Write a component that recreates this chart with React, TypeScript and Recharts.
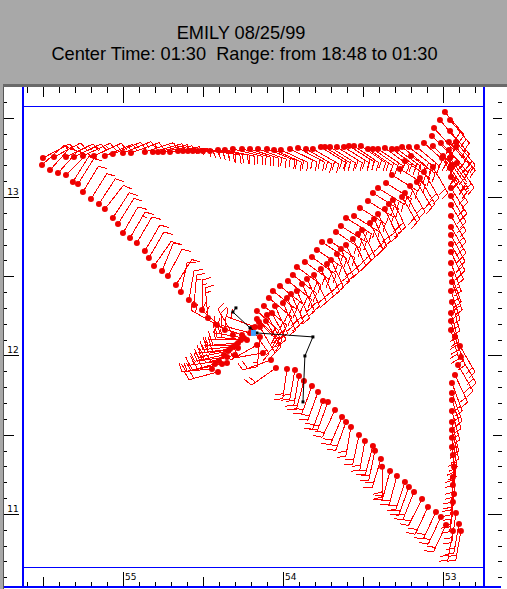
import React from "react";
import { ScatterChart, Scatter, XAxis, YAxis } from "recharts";

const titleLine1 = "EMILY 08/25/99";
const titleLine2 = "Center Time: 01:30  Range: from 18:48 to 01:30";

const lonTicks = [55.6,55.5,55.4,55.3,55.2,55.1,55,54.9,54.8,54.7,54.6,54.5,54.4,54.3,54.2,54.1,54,53.9,53.8,53.7,53.6,53.5,53.4,53.3,53.2,53.1,53,52.9,52.8];
const latTicks = [13.6,13.5,13.4,13.3,13.2,13.1,13,12.9,12.8,12.7,12.6,12.5,12.4,12.3,12.2,12.1,12,11.9,11.8,11.7,11.6,11.5,11.4,11.3,11.2,11.1,11,10.9,10.8,10.7,10.6];

// lon, lat, wind direction (deg), wind speed (kt)
type Ob = [number, number, number, number];
const leftLeg: Ob[] = [
  [55.506,13.202,48,10],[55.456,13.170,42,10],[55.406,13.151,42,10],[55.356,13.139,45,10],[55.313,13.095,32,10],
  [55.281,13.082,32,10],[55.250,13.032,31,10],[55.200,12.987,32,10],[55.150,12.956,33,10],[55.113,12.924,38,10],
  [55.063,12.868,33,10],[55.031,12.830,32,10],[55.000,12.773,30,10],[54.956,12.741,30,15],[54.913,12.710,30,10],
  [54.863,12.659,30,10],[54.838,12.615,30,10],[54.806,12.565,35,10],[54.756,12.533,22,10],[54.719,12.502,28,10],
  [54.669,12.445,32,10],[54.638,12.401,12,10],[54.588,12.350,10,10],[54.556,12.319,5,15],[54.506,12.287,0,15],[54.469,12.237,-5,15],
];
const clusterObs: Ob[] = [
  [54.413,12.192,300,20],[54.363,12.161,310,20],[54.313,12.129,330,20],[54.256,12.129,290,20],[54.244,12.110,280,20],
  [54.225,12.098,275,20],[54.206,12.142,285,20],[54.175,12.180,290,20],[54.281,12.079,265,20],[54.281,12.047,260,20],
  [54.313,12.054,265,20],[54.344,12.028,258,20],[54.300,12.003,255,20],[54.350,11.991,262,20],[54.350,11.953,258,20],
  [54.381,11.946,258,20],[54.400,11.965,262,20],[54.425,11.946,255,20],[54.444,11.915,265,20],[54.406,11.896,255,20],
  [54.263,12.098,270,20],[54.331,12.041,262,20],[54.294,12.066,268,20],[54.369,12.003,258,20],
  [54.144,12.117,185,15],[54.163,12.066,240,15],[54.125,12.016,260,20],[54.075,11.972,250,20],[54.044,11.921,235,20],
];
const upperRow: Ob[] = [
  [53.319,13.139,122,20],[53.356,13.088,122,20],[53.406,13.057,122,20],[53.438,13.025,122,20],[53.469,12.975,122,20],
  [53.519,12.931,122,20],[53.556,12.880,122,20],[53.606,12.868,122,20],[53.638,12.817,122,20],[53.669,12.779,124,20],
  [53.706,12.722,124,20],[53.756,12.716,124,20],[53.788,12.666,124,20],[53.819,12.621,126,20],[53.863,12.590,126,20],
  [53.913,12.558,126,20],[53.938,12.508,128,20],[53.969,12.470,128,20],[54.019,12.438,128,20],[54.063,12.407,128,20],
  [54.088,12.363,130,20],[54.119,12.312,130,20],[54.163,12.281,132,20],[54.163,12.230,132,20],[54.150,12.211,135,20],
  [53.269,13.177,122,20],[53.238,13.227,124,20],[53.200,13.259,126,20],
];
const lowerRow: Ob[] = [
  [53.313,12.981,155,20],[53.338,12.956,155,20],[53.363,12.924,155,20],[53.406,12.893,155,20],[53.431,12.861,155,20],
  [53.456,12.836,154,20],[53.506,12.792,154,20],[53.531,12.767,154,20],[53.563,12.735,154,20],[53.606,12.697,154,20],
  [53.638,12.672,155,20],[53.663,12.640,155,20],[53.700,12.603,155,20],[53.725,12.577,155,20],[53.763,12.546,155,20],
  [53.806,12.508,155,20],[53.850,12.483,155,20],[53.881,12.451,155,20],[53.913,12.407,155,20],[53.950,12.388,155,20],
  [53.975,12.363,155,20],[54.000,12.331,155,20],[54.050,12.312,155,20],[54.069,12.268,152,20],[54.100,12.255,150,20],
  [54.106,12.218,150,20],[54.144,12.180,150,20],[54.194,12.167,145,20],
  [53.256,13.000,150,20],[53.238,13.025,150,20],[53.206,13.069,150,20],[53.163,13.095,150,20],[53.144,13.120,150,20],
  [53.119,13.158,150,20],[53.063,13.189,150,20],[53.006,13.246,148,20],[53.000,13.259,148,20],[52.944,13.202,145,20],
  [52.913,13.215,145,20],[52.919,13.315,140,20],[52.919,13.347,140,20],
];
const apexObs: Ob[] = [
  [52.988,13.536,140,20],[53.019,13.486,140,20],[53.056,13.435,138,20],[53.069,13.385,135,20],[52.956,13.486,140,20],[52.956,13.416,140,20],
];
const topLeg: Ob[] = [
  [55.500,13.246,62,15],[55.431,13.252,62,15],[55.356,13.252,64,15],[55.306,13.252,64,15],[55.250,13.259,65,15],
  [55.181,13.259,65,15],[55.113,13.259,67,15],[55.063,13.271,67,15],[55.000,13.278,68,15],[54.950,13.278,70,15],
  [54.863,13.284,72,15],[54.813,13.284,74,15],[54.781,13.284,76,15],[54.750,13.284,78,15],[54.706,13.284,80,15],
  [54.656,13.290,85,15],[54.625,13.290,87,15],[54.594,13.290,88,15],[54.563,13.290,90,15],[54.531,13.290,92,15],
  [54.500,13.290,94,15],[54.456,13.290,97,20],[54.406,13.297,100,20],[54.363,13.297,102,20],[54.313,13.303,104,20],
  [54.256,13.303,106,20],[54.206,13.303,108,20],[54.156,13.303,110,20],[54.100,13.303,112,20],[54.056,13.297,114,20],
  [54.013,13.297,115,20],[53.956,13.303,116,20],[53.906,13.309,118,20],[53.856,13.303,120,20],[53.813,13.303,120,20],
  [53.763,13.315,122,20],[53.738,13.315,122,20],[53.706,13.315,122,20],[53.663,13.315,122,20],[53.619,13.315,122,20],
  [53.588,13.322,122,20],[53.556,13.322,124,20],[53.513,13.322,124,20],[53.469,13.303,124,20],[53.438,13.303,124,20],
  [53.406,13.303,124,20],[53.363,13.309,126,20],[53.319,13.303,126,20],[53.288,13.303,126,20],[53.256,13.315,128,20],
  [53.213,13.315,128,20],[53.163,13.315,130,20],[53.119,13.341,132,20],[53.063,13.322,134,20],[53.013,13.341,136,20],
  [52.963,13.347,138,20],[52.963,13.297,140,20],
];
const rightLeg: Ob[] = [
  [52.956,13.246,145,20],[52.956,13.183,145,20],[52.950,13.126,146,20],[52.950,13.057,148,20],[52.950,13.006,150,20],
  [52.950,12.950,150,20],[52.950,12.880,150,20],[52.950,12.811,150,20],[52.950,12.760,152,20],[52.950,12.703,152,20],
  [52.950,12.653,155,20],[52.950,12.584,160,20],[52.950,12.514,160,20],[52.944,12.464,160,20],[52.950,12.407,162,20],
  [52.944,12.338,165,20],[52.950,12.268,165,20],[52.950,12.218,165,20],[52.950,12.161,165,20],[52.925,12.117,160,20],
  [52.894,12.060,150,20],[52.888,11.991,150,20],[52.906,11.940,150,20],[52.925,11.877,155,20],[52.944,11.827,160,20],
  [52.944,11.763,160,20],[52.944,11.719,162,20],[52.944,11.650,165,20],[52.944,11.580,167,20],[52.944,11.530,167,20],
  [52.944,11.480,170,20],[52.944,11.423,172,20],[52.938,11.372,178,20],[52.931,11.297,180,20],[52.938,11.233,182,20],
  [52.938,11.183,184,20],[52.931,11.126,185,20],[52.938,11.076,186,20],[52.919,11.006,188,20],[52.900,10.937,190,20],
  [52.888,10.893,190,20],[52.938,10.893,190,20],
];
const bottomLeg: Ob[] = [
  [53.975,11.915,188,20],[53.925,11.909,190,20],[53.900,11.871,190,20],[53.869,11.839,195,20],[53.819,11.808,200,20],
  [53.781,11.770,200,20],[53.750,11.713,200,20],[53.719,11.707,200,20],[53.675,11.656,205,20],[53.631,11.612,203,20],
  [53.606,11.580,200,20],[53.575,11.549,190,20],[53.525,11.498,192,20],[53.488,11.461,190,20],[53.438,11.429,195,20],
  [53.425,11.398,192,20],[53.388,11.347,197,20],[53.381,11.297,180,20],[53.331,11.271,195,20],[53.288,11.240,195,20],
  [53.238,11.202,198,20],[53.213,11.170,200,20],[53.181,11.139,202,20],[53.131,11.095,207,20],[53.094,11.044,205,20],
  [53.044,11.013,205,20],[53.013,10.981,205,20],[52.981,10.931,205,20],
];
const trackLon = [53.875,53.863,53.813,54.163,54.206,54.313,54.294];
const trackLat = [11.707,11.997,12.117,12.142,12.174,12.274,12.300];
const centerLon = [54.188];
const centerLat = [12.142];

const allObs = [...leftLeg, ...clusterObs, ...upperRow, ...lowerRow, ...apexObs, ...topLeg, ...rightLeg, ...bottomLeg]
  .map(([lon, lat, dir, speed]) => ({ lon, lat, dir, speed }));
const track = trackLon.map((lon, i) => ({ lon, lat: trackLat[i] }));
const center = centerLon.map((lon, i) => ({ lon, lat: centerLat[i] }));

const RED = "#ff0000";
const DOT = "#ee0000";
const BLUE = "#0000ff";
const GRAY = "#a8a8a8";
const STAFF = 30;

function Barb(props: any) {
  const { cx, cy, payload } = props;
  const a = (payload.dir * Math.PI) / 180;
  const ux = Math.sin(a), uy = -Math.cos(a);
  const fa = ((payload.dir + 75) * Math.PI) / 180;
  const fx = Math.sin(fa), fy = -Math.cos(fa);
  let d = `M${cx} ${cy}L${cx + ux * STAFF} ${cy + uy * STAFF}`;
  let left = payload.speed;
  let pos = STAFF;
  while (left >= 5) {
    const len = left >= 10 ? 9 : 5;
    const sx = cx + ux * pos, sy = cy + uy * pos;
    d += `M${sx} ${sy}L${sx + fx * len} ${sy + fy * len}`;
    left -= left >= 10 ? 10 : 5;
    pos -= 5;
  }
  return <path d={d} stroke={RED} strokeWidth={1} fill="none" shapeRendering="crispEdges" />;
}
function Dot(props: any) {
  return <circle cx={props.cx} cy={props.cy} r={3} fill={DOT} />;
}
function TrackDot(props: any) {
  return <rect x={props.cx - 1.5} y={props.cy - 1.5} width={3} height={3} fill="#000" />;
}
function CenterDot(props: any) {
  return <rect x={props.cx - 2} y={props.cy - 3} width={5} height={6} fill="#3f9fff" />;
}

const isInt = (v: number) => Math.abs(v - Math.round(v)) < 1e-6;
const isHalf = (v: number) => Math.abs(v * 2 - Math.round(v * 2)) < 1e-6;

function TopTick(props: any) {
  const v = props.payload.value, x = Math.round(props.x);
  const len = isInt(v) ? 16 : isHalf(v) ? 10 : 6;
  return <line x1={x + 0.5} x2={x + 0.5} y1={87} y2={87 + len} stroke="#000" />;
}
function BottomTick(props: any) {
  const v = props.payload.value, x = Math.round(props.x);
  const len = isInt(v) ? 14 : isHalf(v) ? 9 : 4;
  return (
    <g>
      <line x1={x + 0.5} x2={x + 0.5} y1={586} y2={586 - len} stroke="#000" />
      {isInt(v) && <text x={x + 2} y={580} fontSize={9} fontFamily="DejaVu Sans" fill="#000">{String(v)}</text>}
    </g>
  );
}
function LeftTick(props: any) {
  const v = props.payload.value, y = Math.round(props.y);
  const x2 = isInt(v) ? 19 : isHalf(v) ? 14 : 7;
  return (
    <g>
      <line x1={4} x2={x2} y1={y + 0.5} y2={y + 0.5} stroke="#000" />
      {isInt(v) && <text x={13} y={y - 2} textAnchor="middle" fontSize={9} fontFamily="DejaVu Sans" fill="#000">{String(v)}</text>}
    </g>
  );
}
function RightTick(props: any) {
  const v = props.payload.value, y = Math.round(props.y);
  const x1 = isInt(v) ? 488 : isHalf(v) ? 493 : 498;
  return <line x1={x1} x2={502} y1={y + 0.5} y2={y + 0.5} stroke="#000" />;
}

const abs = (left: number, top: number, width: number, height: number, background: string): React.CSSProperties => ({
  position: "absolute", left, top, width, height, background,
});

export default function App() {
  return (
    <div style={{ position: "absolute", left: 0, top: 0, width: 507, height: 589, background: "#fff", overflow: "hidden" }}>
      <div style={abs(0, 0, 507, 84, GRAY)} />
      <div style={abs(0, 84, 507, 3, "#6a6a6a")} />
      <div style={abs(0, 84, 3, 505, GRAY)} />
      <div style={abs(3, 87, 1, 502, "#555")} />
      <div style={{ position: "absolute", left: 0, top: 23, width: 482, textAlign: "center", fontFamily: "Liberation Sans", fontSize: 18.2, lineHeight: "20px", whiteSpace: "pre", color: "#000" }}>
        {titleLine1}
      </div>
      <div style={{ position: "absolute", left: 0, top: 44, width: 489, textAlign: "center", fontFamily: "Liberation Sans", fontSize: 18.2, lineHeight: "20px", whiteSpace: "pre", color: "#000" }}>
        {titleLine2}
      </div>
      <div style={abs(22, 87, 2, 500, BLUE)} />
      <div style={abs(22, 106, 1, 461, BLUE)} />
      <div style={abs(483, 87, 2, 500, BLUE)} />
      <div style={abs(22, 106, 462, 1, BLUE)} />
      <div style={abs(22, 567, 462, 1, BLUE)} />
      <div style={abs(4, 586, 497, 2, BLUE)} />
      <div style={{ position: "absolute", left: 0, top: 0 }}>
        <ScatterChart
          width={507}
          height={589}
          margin={{ left: 22, right: 24, top: 87, bottom: 2 }}
          style={{ background: "transparent" }}
        >
          <XAxis xAxisId="b" dataKey="lon" type="number" orientation="bottom" mirror reversed domain={[52.75, 55.631]} ticks={lonTicks} interval={0} tick={BottomTick} tickLine={false} axisLine={false} allowDataOverflow />
          <XAxis xAxisId="t" dataKey="lon" type="number" orientation="top" mirror reversed domain={[52.75, 55.631]} ticks={lonTicks} interval={0} tick={TopTick} tickLine={false} axisLine={false} allowDataOverflow />
          <YAxis yAxisId="l" dataKey="lat" type="number" orientation="left" mirror domain={[10.539, 13.694]} ticks={latTicks} interval={0} tick={LeftTick} tickLine={false} axisLine={false} allowDataOverflow />
          <YAxis yAxisId="r" dataKey="lat" type="number" orientation="right" mirror domain={[10.539, 13.694]} ticks={latTicks} interval={0} tick={RightTick} tickLine={false} axisLine={false} allowDataOverflow />
          <Scatter xAxisId="b" yAxisId="l" data={allObs} shape={Barb} isAnimationActive={false} />
          <Scatter xAxisId="b" yAxisId="l" data={allObs} shape={Dot} isAnimationActive={false} />
          <Scatter xAxisId="b" yAxisId="l" data={track} line={{ stroke: "#000", strokeWidth: 1 }} shape={TrackDot} isAnimationActive={false} />
          <Scatter xAxisId="b" yAxisId="l" data={center} shape={CenterDot} isAnimationActive={false} />
        </ScatterChart>
      </div>
    </div>
  );
}
